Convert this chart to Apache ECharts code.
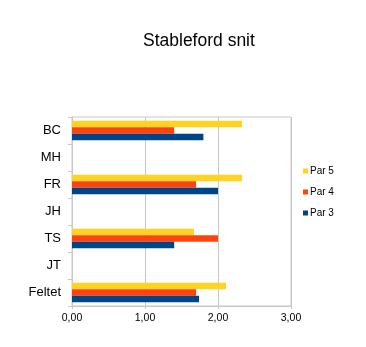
<!DOCTYPE html>
<html>
<head>
<meta charset="utf-8">
<script src="https://cdn.jsdelivr.net/npm/echarts@6/dist/echarts.min.js"></script>
<style>
html,body{margin:0;padding:0;background:#fff;}
#c{width:366px;height:347px;}
</style>
</head>
<body>
<div id="c"></div>
<script>
const categories = ['BC', 'MH', 'FR', 'JH', 'TS', 'JT', 'Feltet'];
const par5 = [2.33, null, 2.33, null, 1.67, null, 2.11];
const par4 = [1.40, null, 1.70, null, 2.00, null, 1.70];
const par3 = [1.80, null, 2.00, null, 1.40, null, 1.74];
const xTicks = [0, 1, 2, 3];

const chart = echarts.init(document.getElementById('c'), null, {renderer: 'canvas'});
const font = 'Liberation Sans, Arial, sans-serif';
const grid = '#c8c8c8';
chart.setOption({
  animation: false,
  backgroundColor: '#fff',
  textStyle: {fontFamily: font},
  title: {
    text: 'Stableford snit',
    left: 138, top: 27,
    textStyle: {fontSize: 17.5, fontWeight: 'normal', color: '#000', fontFamily: font}
  },
  legend: {
    orient: 'vertical',
    left: 298, top: 161,
    itemWidth: 5, itemHeight: 5, itemGap: 11,
    icon: 'rect',
    data: ['Par 5', 'Par 4', 'Par 3'],
    textStyle: {fontSize: 10, color: '#000', fontFamily: font, padding: [0, 0, 0, -3]}
  },
  grid: {
    left: 72, right: 75, top: 117, bottom: 41,
    show: true, borderColor: grid, borderWidth: 1, backgroundColor: 'transparent',
    containLabel: false
  },
  xAxis: {
    type: 'value',
    min: xTicks[0], max: xTicks[xTicks.length - 1], interval: 1,
    axisLine: {show: true, lineStyle: {color: grid}},
    axisTick: {show: true, length: 3, lineStyle: {color: grid}},
    splitLine: {show: true, lineStyle: {color: grid, width: 1}},
    axisLabel: {
      fontSize: 10.5, color: '#000', margin: 7, fontFamily: font,
      formatter: v => v.toFixed(2).replace('.', ',')
    }
  },
  yAxis: {
    type: 'category',
    data: categories,
    inverse: true,
    axisLine: {show: true, lineStyle: {color: grid}},
    axisTick: {show: true, length: 4, lineStyle: {color: grid}},
    splitLine: {show: false},
    axisLabel: {fontSize: 13, color: '#000', margin: 11, fontFamily: font}
  },
  series: [
    {name: 'Par 5', type: 'bar', data: par5, itemStyle: {color: '#ffd320'}, barGap: '0%', barCategoryGap: '28%'},
    {name: 'Par 4', type: 'bar', data: par4, itemStyle: {color: '#ff420e'}, barGap: '0%', barCategoryGap: '28%'},
    {name: 'Par 3', type: 'bar', data: par3, itemStyle: {color: '#004586'}, barGap: '0%', barCategoryGap: '28%'}
  ]
});
</script>
</body>
</html>
